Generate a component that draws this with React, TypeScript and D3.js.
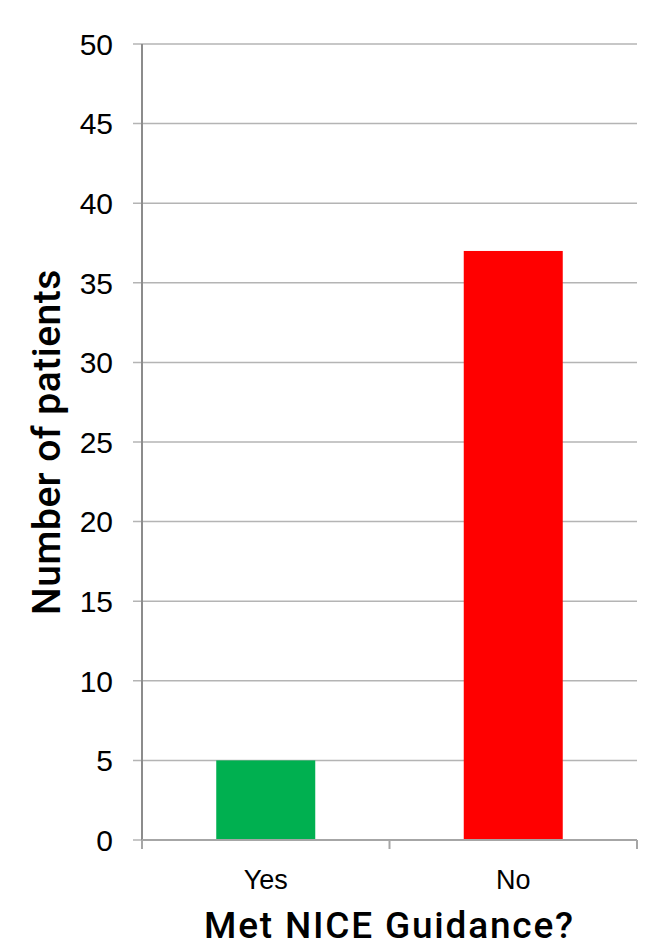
import { useMemo } from "react";
import * as d3 from "d3";

const categories = ["Yes", "No"];
const patients = [5, 37];
const barColors = ["#00b050", "#ff0000"];
const yTicks = [0, 5, 10, 15, 20, 25, 30, 35, 40, 45, 50];

const WIDTH = 649;
const HEIGHT = 948;
const MARGIN = { top: 44, right: 12, bottom: 108, left: 142 };

export default function App() {
  const boundsWidth = WIDTH - MARGIN.left - MARGIN.right;
  const boundsHeight = HEIGHT - MARGIN.top - MARGIN.bottom;

  const yScale = useMemo(
    () => d3.scaleLinear().domain([0, 50]).range([boundsHeight, 0]),
    [boundsHeight]
  );
  const xScale = useMemo(
    () =>
      d3
        .scaleBand()
        .domain(categories)
        .range([0, boundsWidth])
        .paddingInner(0.6)
        .paddingOuter(0.3),
    [boundsWidth]
  );
  // category boundaries for the x axis ticks
  const edges = d3.range(categories.length + 1).map((i) => i * (boundsWidth / categories.length));

  const font = "'Liberation Sans', Arial, sans-serif";
  const titleFont = "Roboto, 'Noto Sans', sans-serif";

  return (
    <svg
      width={WIDTH}
      height={HEIGHT}
      style={{ position: "absolute", left: 0, top: 0, background: "#fff" }}
    >
      <g transform={`translate(${MARGIN.left},${MARGIN.top})`}>
        {/* grid */}
        {yTicks.map((t) => (
          <g key={t}>
            <line
              x1={-9}
              x2={boundsWidth}
              y1={yScale(t)}
              y2={yScale(t)}
              stroke="#b4b4b4"
              strokeWidth={1.5}
            />
            <text
              x={-29}
              y={yScale(t)}
              dy="0.36em"
              textAnchor="end"
              fontFamily={font}
              fontSize={30}
              fill="#000"
            >
              {t}
            </text>
          </g>
        ))}
        {/* bars */}
        {categories.map((c, i) => (
          <rect
            key={c}
            x={xScale(c)}
            y={yScale(patients[i])}
            width={xScale.bandwidth()}
            height={boundsHeight - yScale(patients[i])}
            fill={barColors[i]}
          />
        ))}
        {/* axes */}
        <line x1={0} x2={0} y1={0} y2={boundsHeight + 9} stroke="#8c8c8c" strokeWidth={2} />
        <line
          x1={0}
          x2={boundsWidth}
          y1={boundsHeight}
          y2={boundsHeight}
          stroke="#a6a6a6"
          strokeWidth={2}
        />
        {edges.map((e, i) => (
          <line
            key={i}
            x1={e}
            x2={e}
            y1={boundsHeight}
            y2={boundsHeight + 9}
            stroke="#a6a6a6"
            strokeWidth={2}
          />
        ))}
        {categories.map((c) => (
          <text
            key={c}
            x={(xScale(c) ?? 0) + xScale.bandwidth() / 2}
            y={boundsHeight + 49}
            textAnchor="middle"
            fontFamily={font}
            fontSize={27}
            fill="#000"
          >
            {c}
          </text>
        ))}
        <text
          x={boundsWidth / 2}
          y={boundsHeight + 98}
          textAnchor="middle"
          fontFamily={titleFont}
          fontWeight={500}
          fontSize={37}
          letterSpacing={1.8}
          fill="#000"
        >
          Met NICE Guidance?
        </text>
        <text
          transform={`translate(${-82},${boundsHeight / 2}) rotate(-90)`}
          textAnchor="middle"
          fontFamily={titleFont}
          fontWeight={500}
          fontSize={39}
          letterSpacing={0.5}
          fill="#000"
        >
          Number of patients
        </text>
      </g>
    </svg>
  );
}
